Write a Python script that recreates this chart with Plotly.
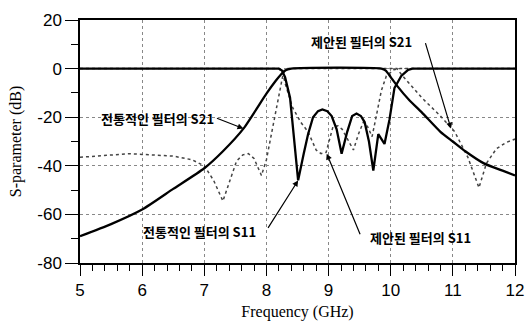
import plotly.graph_objects as go

# Conventional filter S21 (solid)
conv_s21_f = [5, 5.5, 6, 6.5, 7, 7.3, 7.63, 8.0, 8.15, 8.22, 8.3, 8.4, 9.85, 9.92, 10.0, 10.1, 10.3, 10.5, 10.8, 11.0, 11.2, 11.5, 11.8, 12]
conv_s21_db = [-69, -64, -58, -49.5, -41, -34, -24.7, -10.3, -5, -2.8, -0.8, 0, 0, -0.8, -3.5, -7, -13, -18, -26, -30, -34, -39, -42, -44]

# Conventional filter S11 (solid)
conv_s11_f = [5, 8.2, 8.25, 8.3, 8.38, 8.45, 8.51, 8.6, 8.67, 8.75, 8.83, 8.9, 8.98, 9.05, 9.13, 9.21, 9.3, 9.38, 9.45, 9.52, 9.58, 9.65, 9.72, 9.8, 9.9, 9.98, 10.06, 10.17, 10.28, 10.35, 12]
conv_s11_db = [0, 0, -0.8, -3.5, -12, -30, -46, -35, -27, -20, -17.5, -16.8, -17.5, -19.5, -25, -35, -26, -19.5, -18.5, -19.5, -22, -30, -42, -27, -31, -21, -8, -3, -0.5, 0, 0]

# Proposed filter S21 (dotted)
prop_s21_f = [5, 5.3, 5.6, 5.8, 6.0, 6.2, 6.5, 6.8, 7.0, 7.15, 7.3, 7.4, 7.52, 7.62, 7.71, 7.8, 7.92, 8.0, 8.07, 8.13, 8.22, 8.27, 8.33, 10.1, 10.19, 10.5, 10.8, 11.03, 11.24, 11.42, 11.54, 11.7, 11.85, 12]
prop_s21_db = [-36.5, -36, -35.5, -35, -35.3, -35.5, -36, -37.5, -40, -46, -54.5, -47, -38, -35.5, -35, -37, -44, -37.5, -28, -20, -7.6, -2, 0, 0, -3, -12, -19.5, -26, -36.4, -49, -39, -33, -30.5, -29]

# Proposed filter S11 (dotted)
prop_s11_f = [5, 8.2, 8.26, 8.3, 8.42, 8.55, 8.67, 8.8, 8.88, 8.96, 9.07, 9.15, 9.22, 9.3, 9.4, 9.48, 9.56, 9.63, 9.7, 9.78, 9.85, 9.93, 10.05, 10.15, 12]
prop_s11_db = [0, 0, -1.5, -6, -16, -22, -26, -33.5, -35, -34.5, -24, -23.5, -25, -29, -33.5, -27, -22, -24, -28, -18, -9, -3, -0.5, 0, 0]

x_ticks = [5, 6, 7, 8, 9, 10, 11, 12]
y_ticks = [20, 0, -20, -40, -60, -80]

labels = ["전통적인 필터의 S21", "제안된 필터의 S21", "전통적인 필터의 S11", "제안된 필터의 S11"]
label_x = [6.25, 9.53, 6.93, 10.48]
label_y = [-20.4, 11.2, -67.0, -69.3]
arrow_x = [7.63, 10.97, 8.51, 8.97]
arrow_y = [-24.7, -24.7, -46, -35]
arrow_ax = [-28, -26, -31, 34]
arrow_ay = [-11, -87, 49, 82]

fig = go.Figure()
fig.add_trace(go.Scatter(x=prop_s21_f, y=prop_s21_db, mode="lines",
                         line=dict(color="#444444", width=1.5, dash="dot")))
fig.add_trace(go.Scatter(x=prop_s11_f, y=prop_s11_db, mode="lines",
                         line=dict(color="#444444", width=1.5, dash="dot")))
fig.add_trace(go.Scatter(x=conv_s21_f, y=conv_s21_db, mode="lines",
                         line=dict(color="black", width=2.3, shape="spline", smoothing=0.6)))
fig.add_trace(go.Scatter(x=conv_s11_f, y=conv_s11_db, mode="lines",
                         line=dict(color="black", width=2.3)))

for t, lx, ly in zip(labels, label_x, label_y):
    fig.add_annotation(x=lx, y=ly, text="<b>" + t + "</b>", showarrow=False,
                       font=dict(family="Noto Sans CJK KR", size=13, color="black"))
for tx, ty, ax, ay in zip(arrow_x, arrow_y, arrow_ax, arrow_ay):
    fig.add_annotation(x=tx, y=ty, text="", showarrow=True, ax=ax, ay=ay,
                       arrowhead=2, arrowsize=1, arrowwidth=1.2, arrowcolor="black")

fig.update_layout(
    width=526, height=322,
    margin=dict(l=80, r=11, t=20, b=59),
    paper_bgcolor="white", plot_bgcolor="white",
    showlegend=False,
    font=dict(family="Liberation Sans", color="black"),
)
fig.update_xaxes(
    range=[5, 12], tickvals=x_ticks, ticktext=[str(v) for v in x_ticks],
    ticks="outside", ticklen=11, tickwidth=1.3, tickcolor="black",
    minor=dict(dtick=0.2, ticks="outside", ticklen=6, tickcolor="black", showgrid=False),
    showline=True, linecolor="black", linewidth=1.5, mirror=True,
    showgrid=True, gridcolor="#888888", griddash="dot", gridwidth=1,
    zeroline=False, automargin=False,
    tickfont=dict(family="Liberation Sans", size=17),
    title=dict(text="Frequency (GHz)", font=dict(family="Liberation Serif", size=16), standoff=7),
)
fig.update_yaxes(
    range=[-80, 20], tickvals=y_ticks, ticktext=[str(v) for v in y_ticks],
    ticks="outside", ticklen=13, tickwidth=1.3, tickcolor="black",
    minor=dict(dtick=10, ticks="outside", ticklen=7, tickcolor="black", showgrid=False),
    showline=True, linecolor="black", linewidth=1.5, mirror=True,
    showgrid=True, gridcolor="#888888", griddash="dot", gridwidth=1,
    zeroline=False, automargin=False,
    tickfont=dict(family="Liberation Sans", size=17),
    title=dict(text="S-parameter (dB)", font=dict(family="Liberation Serif", size=16), standoff=12),
)

# remove the default 8px page margin so the figure fills the window exactly
fig.write_html("out.html", config={"displayModeBar": False},
               post_script="document.body.style.margin='0px';")
